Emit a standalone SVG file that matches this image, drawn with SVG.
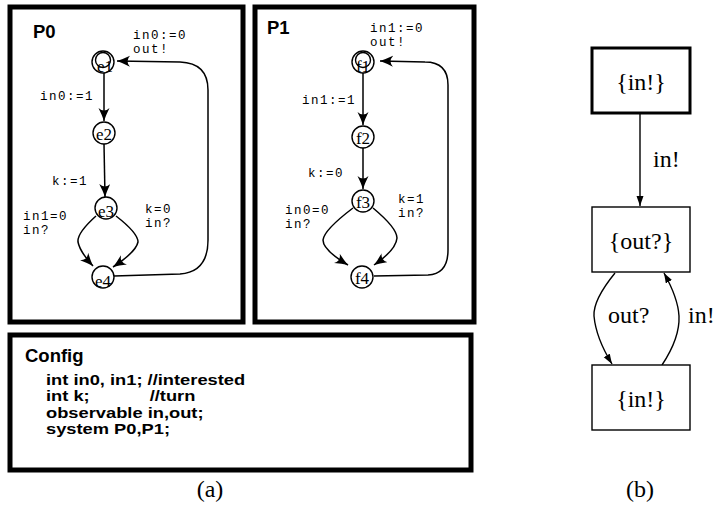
<svg xmlns="http://www.w3.org/2000/svg" width="720" height="510" viewBox="0 0 720 510">
<style>
.box{fill:#fff;stroke:#000;stroke-width:5}
.st{fill:#fff;stroke:#000;stroke-width:1.4}
.edge{fill:none;stroke:#000;stroke-width:1.5}
.bedge{fill:none;stroke:#000;stroke-width:1.4}
.title{font-family:"Liberation Sans",Arial,sans-serif;font-weight:bold;font-size:18.5px}
.code{font-family:"Liberation Sans",Arial,sans-serif;font-weight:bold;font-size:15px}
.mono{font-family:"Liberation Mono","Courier New",monospace;font-size:12.5px;letter-spacing:1.5px}
.nl{font-family:"Liberation Serif","Times New Roman",serif;font-size:17px;text-anchor:middle}
.bl{font-family:"Liberation Serif","Times New Roman",serif;font-size:24px}
.bn{fill:#fff;stroke:#000;stroke-width:1.4}
</style>
<defs>
<marker id="barb" markerUnits="userSpaceOnUse" markerWidth="14" markerHeight="12" refX="13" refY="5.5" orient="auto" viewBox="0 0 14 12">
<path d="M0,0 Q7,3.5 13,5.5 Q7,7.5 0,11 Q5,5.5 0,0 z" fill="#000"/>
</marker>
<marker id="tri" markerUnits="userSpaceOnUse" markerWidth="11" markerHeight="8" refX="10" refY="3.5" orient="auto" viewBox="0 0 11 8">
<path d="M0,0 L10,3.5 L0,7 z" fill="#000"/>
</marker>
</defs>
<rect width="720" height="510" fill="#fff"/>

<g id="P0">
<rect class="box" x="10" y="7" width="233" height="315"/>
<text class="title" x="33" y="38">P0</text>
</g>
<g id="P1">
<rect class="box" x="255" y="7" width="219" height="315"/>
<text class="title" x="267" y="34">P1</text>
</g>
<g id="Config">
<rect class="box" x="10" y="335" width="461" height="135"/>
<text class="title" x="25" y="362">Config</text>
<g transform="translate(46,0) scale(1.22,1)">
<text class="code" x="0" y="385">int in0, in1; //interested</text>
<text class="code" x="0" y="401.5">int k;<tspan x="85">//turn</tspan></text>
<text class="code" x="0" y="418">observable in,out;</text>
<text class="code" x="0" y="434.5">system P0,P1;</text>
</g>
</g>

<g id="connectors">
<path class="edge" d="M104,73 L104,121" marker-end="url(#barb)"/>
<path class="edge" d="M104,144 L105,197" marker-end="url(#barb)"/>
<path class="edge" d="M96,216 Q77,233 78,242 Q80,252 93,266" marker-end="url(#barb)"/>
<path class="edge" d="M116,216 Q138,233 138,242 Q136,252 113,267" marker-end="url(#barb)"/>
<path class="edge" d="M114,276 L180,274 Q208,272 208,240 L208,90 Q208,63 180,62 L117,61" marker-end="url(#barb)"/>

<path class="edge" d="M363,73 L363,125" marker-end="url(#barb)"/>
<path class="edge" d="M363,148 L363,189" marker-end="url(#barb)"/>
<path class="edge" d="M353,208 Q324,230 323,240 Q323,250 348,265" marker-end="url(#barb)"/>
<path class="edge" d="M373,208 Q397,228 397,238 Q396,250 374,265" marker-end="url(#barb)"/>
<path class="edge" d="M374,276 L428,275 Q448,274 448,250 L448,85 Q448,62 425,62 L380,61" marker-end="url(#barb)"/>

<path class="bedge" d="M640,113 L640,206" marker-end="url(#tri)"/>
<path class="bedge" d="M615,273 Q593,300 594,316 Q596,338 612,364" marker-end="url(#tri)"/>
<path class="bedge" d="M662,365 Q680,338 679,316 Q678,298 664,273" marker-end="url(#tri)"/>
</g>

<g id="labels">
<text class="mono" x="133" y="39">in0:=0</text>
<text class="mono" x="133" y="53">out!</text>
<text class="mono" x="40" y="100">in0:=1</text>
<text class="mono" x="52" y="185">k:=1</text>
<text class="mono" x="23" y="220">in1=0</text>
<text class="mono" x="23" y="234">in?</text>
<text class="mono" x="145" y="213">k=0</text>
<text class="mono" x="145" y="227">in?</text>

<text class="mono" x="370" y="32">in1:=0</text>
<text class="mono" x="370" y="46">out!</text>
<text class="mono" x="302" y="104">in1:=1</text>
<text class="mono" x="308" y="177">k:=0</text>
<text class="mono" x="285" y="214">in0=0</text>
<text class="mono" x="285" y="228">in?</text>
<text class="mono" x="398" y="203">k=1</text>
<text class="mono" x="398" y="217">in?</text>

<text class="bl" x="653" y="167">in!</text>
<text class="bl" x="608" y="323">out?</text>
<text class="bl" x="688" y="323">in!</text>
<text class="bl" x="210" y="497" text-anchor="middle">(a)</text>
<text class="bl" x="640" y="497" text-anchor="middle">(b)</text>
</g>

<g id="e1"><circle class="st" cx="103" cy="62" r="11"/><circle class="st" cx="103" cy="60" r="7.5"/><text class="nl" x="105" y="72">e1</text></g>
<g id="e2"><circle class="st" cx="104" cy="133" r="11"/><text class="nl" x="104" y="140">e2</text></g>
<g id="e3"><circle class="st" cx="106" cy="208" r="11"/><text class="nl" x="106" y="217">e3</text></g>
<g id="e4"><circle class="st" cx="103" cy="277" r="11"/><text class="nl" x="103" y="287">e4</text></g>

<g id="f1"><circle class="st" cx="363" cy="62" r="11"/><circle class="st" cx="363" cy="60" r="7.5"/><text class="nl" x="363" y="72">f1</text></g>
<g id="f2"><circle class="st" cx="363" cy="137" r="11"/><text class="nl" x="363" y="144">f2</text></g>
<g id="f3"><circle class="st" cx="363" cy="201" r="11"/><text class="nl" x="363" y="208">f3</text></g>
<g id="f4"><circle class="st" cx="362" cy="277" r="11"/><text class="nl" x="362" y="284">f4</text></g>

<g id="b1"><rect x="592" y="48" width="98" height="65" fill="#fff" stroke="#000" stroke-width="3"/><text class="bl" x="641" y="90" text-anchor="middle">{in!}</text></g>
<g id="b2"><rect class="bn" x="592" y="207" width="98" height="65"/><text class="bl" x="641" y="249" text-anchor="middle">{out?}</text></g>
<g id="b3"><rect class="bn" x="592" y="365" width="98" height="65"/><text class="bl" x="641" y="407" text-anchor="middle">{in!}</text></g>
</svg>
